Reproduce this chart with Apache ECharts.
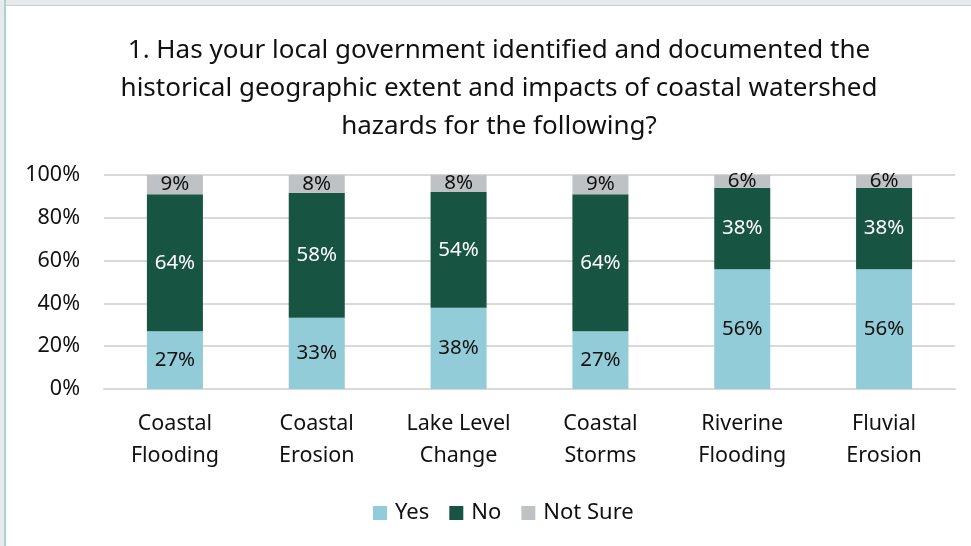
<!DOCTYPE html>
<html>
<head>
<meta charset="utf-8">
<script src="https://cdn.jsdelivr.net/npm/echarts@6/dist/echarts.min.js"></script>
<style>
  html, body { margin: 0; padding: 0; background: #fff; }
  #edgeTop { position: absolute; left: 0; top: 0; width: 971px; height: 5px; background: #e8e9eb; border-bottom: 1px solid #c9ced4; }
  #edgeLeft { position: absolute; left: 0; top: 0; width: 4px; height: 546px; background: #e8e9eb; border-right: 2px solid #a6d3da; }
  #chart { position: absolute; left: 0; top: 0; width: 971px; height: 546px; }
</style>
</head>
<body>
<div id="edgeTop"></div>
<div id="edgeLeft"></div>
<div id="chart"></div>
<script>
  // categories and survey answers (percent)
  const categories = ['Coastal\nFlooding', 'Coastal\nErosion', 'Lake Level\nChange', 'Coastal\nStorms', 'Riverine\nFlooding', 'Fluvial\nErosion']
  const yesValues = [27, 33.3, 38, 27, 56, 56]
  const noValues = [64, 58.4, 54, 64, 38, 38]
  const notSureValues = [9, 8.3, 8, 9, 6, 6]
  const yTicks = [0, 20, 40, 60, 80, 100]

  const fontName = 'Noto Sans'

  let myChart = echarts.init(document.getElementById('chart'))

  // one stacked bar series
  function makeSeries(name, data, color, labelColor) {
    return {
      name: name,
      type: 'bar',
      stack: 'total',
      barWidth: '39.5%',
      data: data,
      itemStyle: { color: color },
      label: {
        show: true,
        position: 'inside',
        formatter: p => Math.round(p.value) + '%',
        color: labelColor,
        fontFamily: fontName,
        fontSize: 20.5
      }
    }
  }

  let option = {
    animation: false,
    title: {
      text: '1. Has your local government identified and documented the\nhistorical geographic extent and impacts of coastal watershed\nhazards for the following?',
      left: 494,
      top: 27,
      textAlign: 'center',
      textStyle: {
        fontFamily: fontName,
        fontWeight: 'normal',
        fontSize: 26,
        lineHeight: 38,
        color: '#111'
      }
    },
    legend: {
      bottom: 17,
      left: 368,
      itemWidth: 14,
      itemHeight: 14,
      itemGap: 20,
      icon: 'rect',
      textStyle: { fontFamily: fontName, fontSize: 22, color: '#111', padding: [0, 0, 0, 3] },
      data: ['Yes', 'No', 'Not Sure']
    },
    grid: {
      left: 104,
      right: 16,
      top: 175,
      bottom: 157
    },
    xAxis: {
      type: 'category',
      data: categories,
      axisLine: { lineStyle: { color: '#d9d9d9', width: 2 } },
      axisTick: { show: false },
      axisLabel: {
        fontFamily: fontName,
        fontSize: 21.5,
        lineHeight: 32,
        color: '#111',
        margin: 19
      }
    },
    yAxis: {
      type: 'value',
      min: yTicks[0],
      max: yTicks[yTicks.length - 1],
      interval: 20,
      axisLine: { show: false },
      axisTick: { show: false },
      splitLine: { lineStyle: { color: '#d9d9d9', width: 2 } },
      axisLabel: {
        formatter: '{value}%',
        fontFamily: fontName,
        fontSize: 21.5,
        color: '#111',
        margin: 24
      }
    },
    series: [
      makeSeries('Yes', yesValues, '#92ccd8', '#111'),
      makeSeries('No', noValues, '#185442', '#fff'),
      makeSeries('Not Sure', notSureValues, '#bfc2c5', '#111')
    ]
  }
  myChart.setOption(option)
</script>
</body>
</html>
